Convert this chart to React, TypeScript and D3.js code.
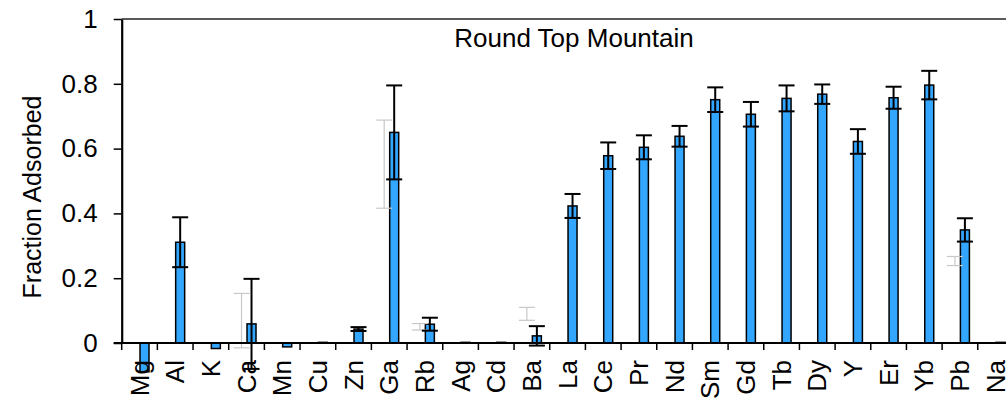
import { useEffect, useRef } from 'react';
import * as d3 from 'd3';

// element labels along the x axis
const elements = ['Mg', 'Al', 'K', 'Ca', 'Mn', 'Cu', 'Zn', 'Ga', 'Rb', 'Ag', 'Cd', 'Ba', 'La', 'Ce', 'Pr', 'Nd', 'Sm', 'Gd', 'Tb', 'Dy', 'Y', 'Er', 'Yb', 'Pb', 'Na'];

// main series (blue bars)
const adsorbed = [-0.089, 0.311, -0.017, 0.059, -0.012, 0.002, 0.043, 0.65, 0.058, 0.002, 0.002, 0.022, 0.423, 0.578, 0.604, 0.638, 0.751, 0.706, 0.755, 0.768, 0.622, 0.757, 0.796, 0.349, 0.002];
const adsorbedErr = [null, 0.077, null, 0.139, null, null, 0.006, 0.145, 0.02, null, null, 0.03, 0.037, 0.041, 0.037, 0.032, 0.038, 0.038, 0.04, 0.03, 0.038, 0.034, 0.044, 0.036, null];

// faint second series (only its error bars show)
const faint = [null, null, null, 0.069, null, null, null, 0.552, 0.05, null, null, 0.09, null, null, null, null, null, null, null, null, null, null, null, 0.253, null];
const faintErr = [null, null, null, 0.084, null, null, null, 0.136, 0.01, null, null, 0.02, null, null, null, null, null, null, null, null, null, null, null, 0.014, null];

const yTicks = [0, 0.2, 0.4, 0.6, 0.8, 1];
const yTickLabels = ['0', '0.2', '0.4', '0.6', '0.8', '1'];

const title = 'Round Top Mountain';
const yTitle = 'Fraction Adsorbed';

const W = 1006;
const H = 401;
const FONT = "'Liberation Sans', Arial, sans-serif";

export default function App() {
    const svgRef = useRef<SVGSVGElement | null>(null);

    useEffect(() => {
        const svg = d3.select(svgRef.current);
        svg.selectAll('*').remove();

        const left = 121.7;
        const step = 35.67;
        const x = d3.scaleBand<string>()
            .domain(elements)
            .range([left, left + step * elements.length])
            .padding(0);
        const sub = d3.scaleBand<string>()
            .domain(['faint', 'main'])
            .range([7.8, 27.8]);
        const y = d3.scaleLinear().domain([0, 1]).range([343, 19]);

        const g = svg.append('g');

        // top frame line
        g.append('line')
            .attr('x1', left).attr('x2', W)
            .attr('y1', y(1)).attr('y2', y(1))
            .attr('stroke', '#222').attr('stroke-width', 1.5);

        // bars
        elements.forEach((el, i) => {
            const v = adsorbed[i];
            const bx = (x(el) as number) + (sub('main') as number);
            g.append('rect')
                .attr('x', bx + 0.5)
                .attr('width', sub.bandwidth() - 1)
                .attr('y', Math.min(y(v), y(0)))
                .attr('height', Math.abs(y(v) - y(0)))
                .attr('fill', '#33A6FF')
                .attr('stroke', '#000')
                .attr('stroke-width', 1.5);
        });

        const errBar = (cx: number, v: number, e: number, color: string, sw: number) => {
            const top = y(v + e);
            const bot = y(v - e);
            g.append('line').attr('x1', cx).attr('x2', cx).attr('y1', top).attr('y2', bot)
                .attr('stroke', color).attr('stroke-width', sw);
            [top, bot].forEach(yy => {
                g.append('line').attr('x1', cx - 8).attr('x2', cx + 8).attr('y1', yy).attr('y2', yy)
                    .attr('stroke', color).attr('stroke-width', sw);
            });
        };

        // faint series error bars
        elements.forEach((el, i) => {
            const v = faint[i];
            const e = faintErr[i];
            if (v == null || e == null) return;
            const cx = (x(el) as number) + (sub('faint') as number) + sub.bandwidth() / 2;
            errBar(cx, v, e, '#c8c8c8', 1.2);
        });

        // main series error bars
        elements.forEach((el, i) => {
            const e = adsorbedErr[i];
            if (e == null) return;
            const cx = (x(el) as number) + (sub('main') as number) + sub.bandwidth() / 2;
            errBar(cx, adsorbed[i], e, '#000', 2);
        });

        // x axis line + ticks
        g.append('line')
            .attr('x1', left - 8).attr('x2', W)
            .attr('y1', y(0)).attr('y2', y(0))
            .attr('stroke', '#000').attr('stroke-width', 2);
        elements.concat(['_end']).forEach((el, i) => {
            const tx = left + i * x.step();
            g.append('line')
                .attr('x1', tx).attr('x2', tx)
                .attr('y1', y(0)).attr('y2', y(0) + 7)
                .attr('stroke', '#000').attr('stroke-width', 1.5);
        });

        // x labels (rotated)
        elements.forEach(el => {
            const cx = (x(el) as number) + x.bandwidth() / 2;
            g.append('text')
                .attr('transform', `translate(${cx},${y(0) + 17}) rotate(-90)`)
                .attr('text-anchor', 'end')
                .attr('dy', '0.35em')
                .style('font-family', FONT)
                .style('font-size', '26px')
                .attr('fill', '#000')
                .text(el);
        });

        // y axis
        const yAxis = d3.axisLeft(y)
            .tickValues(yTicks)
            .tickFormat((d, i) => yTickLabels[i])
            .tickSize(8)
            .tickSizeOuter(0)
            .tickPadding(16);
        const ya = g.append('g').attr('transform', `translate(${left},0)`).call(yAxis);
        ya.select('.domain').attr('stroke', '#000').attr('stroke-width', 2.2);
        ya.selectAll('.tick line').attr('stroke', '#000').attr('stroke-width', 1.5);
        ya.selectAll('.tick text')
            .style('font-family', FONT)
            .style('font-size', '26px')
            .attr('fill', '#000');

        // y title
        g.append('text')
            .attr('transform', `translate(41,197) rotate(-90)`)
            .attr('text-anchor', 'middle')
            .style('font-family', FONT)
            .style('font-size', '25px')
            .attr('fill', '#000')
            .text(yTitle);

        // chart title
        g.append('text')
            .attr('x', 574)
            .attr('y', 47)
            .attr('text-anchor', 'middle')
            .style('font-family', FONT)
            .style('font-size', '26px')
            .attr('fill', '#000')
            .text(title);
    }, []);

    return (
        <svg ref={svgRef} width={W} height={H}
            style={{ position: 'absolute', left: 0, top: 0, background: '#fff' }} />
    );
}
